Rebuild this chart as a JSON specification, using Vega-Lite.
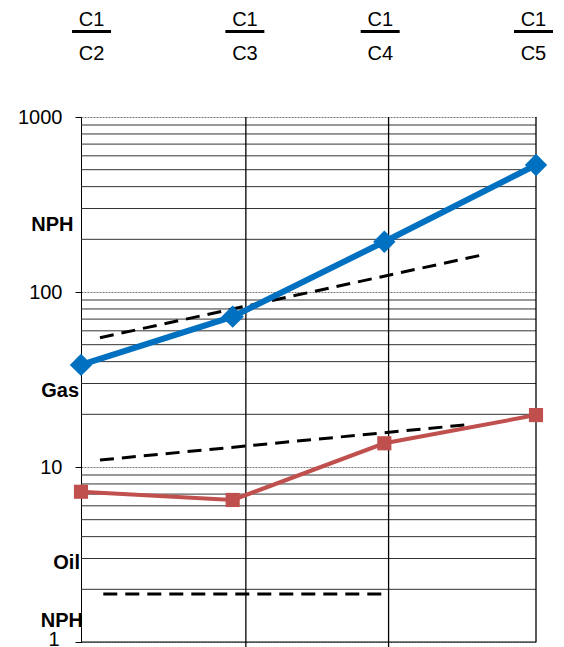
{
  "$schema": "https://vega.github.io/schema/vega-lite/v6.json",
  "width": 455,
  "height": 525,
  "autosize": {"type": "none"},
  "padding": {"left": 81, "top": 117, "right": 28, "bottom": 5},
  "background": "white",
  "config": {"view": {"stroke": null}, "font": "Liberation Sans"},
  "datasets": {
    "series": [
      {"ratio": "C1/C2", "x": 0, "fluid": "Gas", "v": 38.3},
      {"ratio": "C1/C3", "x": 1, "fluid": "Gas", "v": 72.3},
      {"ratio": "C1/C4", "x": 2, "fluid": "Gas", "v": 193.8},
      {"ratio": "C1/C5", "x": 3, "fluid": "Gas", "v": 532},
      {"ratio": "C1/C2", "x": 0, "fluid": "Oil", "v": 7.22},
      {"ratio": "C1/C3", "x": 1, "fluid": "Oil", "v": 6.48},
      {"ratio": "C1/C4", "x": 2, "fluid": "Oil", "v": 13.66},
      {"ratio": "C1/C5", "x": 3, "fluid": "Oil", "v": 19.8}
    ],
    "trend": [
      {"line": "upper", "x": 0.125, "v": 54.8},
      {"line": "upper", "x": 2.634, "v": 162},
      {"line": "middle", "x": 0.125, "v": 10.96},
      {"line": "middle", "x": 2.535, "v": 17.4},
      {"line": "lower", "x": 0.147, "v": 1.88},
      {"line": "lower", "x": 2.013, "v": 1.88}
    ],
    "minor": [
      {"v": 2}, {"v": 3}, {"v": 4}, {"v": 5}, {"v": 6}, {"v": 7}, {"v": 8}, {"v": 9},
      {"v": 20}, {"v": 30}, {"v": 40}, {"v": 50}, {"v": 60}, {"v": 70}, {"v": 80}, {"v": 90},
      {"v": 200}, {"v": 300}, {"v": 400}, {"v": 500}, {"v": 600}, {"v": 700}, {"v": 800}, {"v": 900}
    ],
    "vlines": [
      {"x": 1.087, "lo": 0.935, "hi": 1000},
      {"x": 2.028, "lo": 0.935, "hi": 1000},
      {"x": 3, "lo": 1, "hi": 1000}
    ],
    "side": [
      {"label": "NPH", "x": -0.049, "v": 241.5},
      {"label": "Gas", "x": -0.013, "v": 27.3},
      {"label": "Oil", "x": -0.007, "v": 2.82},
      {"label": "NPH", "x": 0.013, "v": 1.32}
    ],
    "top": [
      {"num": "C1", "den": "C2", "x": 0.069, "x1": -0.059, "x2": 0.198},
      {"num": "C1", "den": "C3", "x": 1.081, "x1": 0.952, "x2": 1.209},
      {"num": "C1", "den": "C4", "x": 1.973, "x1": 1.844, "x2": 2.101},
      {"num": "C1", "den": "C5", "x": 2.983, "x1": 2.855, "x2": 3.112}
    ]
  },
  "layer": [
    {
      "data": {"name": "minor"},
      "mark": {"type": "rule", "color": "#333", "strokeWidth": 1},
      "encoding": {
        "y": {
          "field": "v", "type": "quantitative",
          "scale": {"type": "log", "domain": [1, 1000], "nice": false},
          "axis": {
            "values": [1, 10, 100, 1000],
            "format": ".0f",
            "grid": true, "gridDash": [2, 1], "gridColor": "#777", "gridWidth": 1,
            "tickSize": 6, "tickColor": "black", "domainColor": "black",
            "labelFontSize": 20, "labelColor": "black",
            "labelPadding": {"condition": {"test": "datum.value === 1", "value": 16}, "value": 13},
            "labelOffset": {"condition": {"test": "datum.value === 1", "value": -3}, "value": 0},
            "labelFont": "Liberation Sans", "title": null
          }
        }
      }
    },
    {
      "data": {"name": "vlines"},
      "mark": {"type": "rule", "color": "black", "strokeWidth": 1.3},
      "encoding": {
        "x": {"field": "x", "type": "quantitative", "scale": {"domain": [0, 3], "nice": false, "zero": false}, "axis": null},
        "y": {"field": "lo", "type": "quantitative"},
        "y2": {"field": "hi"}
      }
    },
    {
      "data": {"values": [{"v": 1}]},
      "mark": {"type": "rule", "color": "black", "strokeWidth": 1},
      "encoding": {"y": {"field": "v", "type": "quantitative"}}
    },
    {
      "data": {"name": "trend"},
      "mark": {"type": "line", "color": "black", "strokeWidth": 3, "strokeDash": [14, 8]},
      "encoding": {
        "x": {"field": "x", "type": "quantitative"},
        "y": {"field": "v", "type": "quantitative"},
        "detail": {"field": "line"}
      }
    },
    {
      "data": {"name": "series"},
      "transform": [{"filter": "datum.fluid === 'Gas'"}],
      "layer": [
        {"mark": {"type": "line", "color": "#0070C0", "strokeWidth": 6}, "encoding": {"x": {"field": "x", "type": "quantitative"}, "y": {"field": "v", "type": "quantitative"}}},
        {"mark": {"type": "point", "shape": "diamond", "filled": true, "color": "#0070C0", "opacity": 1, "size": 500}, "encoding": {"x": {"field": "x", "type": "quantitative"}, "y": {"field": "v", "type": "quantitative"}}}
      ]
    },
    {
      "data": {"name": "series"},
      "transform": [{"filter": "datum.fluid === 'Oil'"}],
      "layer": [
        {"mark": {"type": "line", "color": "#C0504D", "strokeWidth": 4}, "encoding": {"x": {"field": "x", "type": "quantitative"}, "y": {"field": "v", "type": "quantitative"}}},
        {"mark": {"type": "point", "shape": "square", "filled": true, "color": "#C0504D", "opacity": 1, "size": 200}, "encoding": {"x": {"field": "x", "type": "quantitative"}, "y": {"field": "v", "type": "quantitative"}}}
      ]
    },
    {
      "data": {"name": "side"},
      "mark": {"type": "text", "align": "right", "baseline": "middle", "fontWeight": "bold", "fontSize": 20, "font": "Liberation Sans", "color": "black"},
      "encoding": {
        "x": {"field": "x", "type": "quantitative"},
        "y": {"field": "v", "type": "quantitative"},
        "text": {"field": "label"}
      }
    },
    {
      "data": {"name": "top"},
      "mark": {"type": "text", "align": "center", "baseline": "middle", "fontSize": 20, "font": "Liberation Sans", "color": "black"},
      "encoding": {
        "x": {"field": "x", "type": "quantitative"},
        "y": {"datum": 3560},
        "text": {"field": "num"}
      }
    },
    {
      "data": {"name": "top"},
      "mark": {"type": "rule", "color": "black", "strokeWidth": 3},
      "encoding": {
        "x": {"field": "x1", "type": "quantitative"},
        "x2": {"field": "x2"},
        "y": {"datum": 3082}
      }
    },
    {
      "data": {"name": "top"},
      "mark": {"type": "text", "align": "center", "baseline": "middle", "fontSize": 20, "font": "Liberation Sans", "color": "black"},
      "encoding": {
        "x": {"field": "x", "type": "quantitative"},
        "y": {"datum": 2291},
        "text": {"field": "den"}
      }
    }
  ]
}
